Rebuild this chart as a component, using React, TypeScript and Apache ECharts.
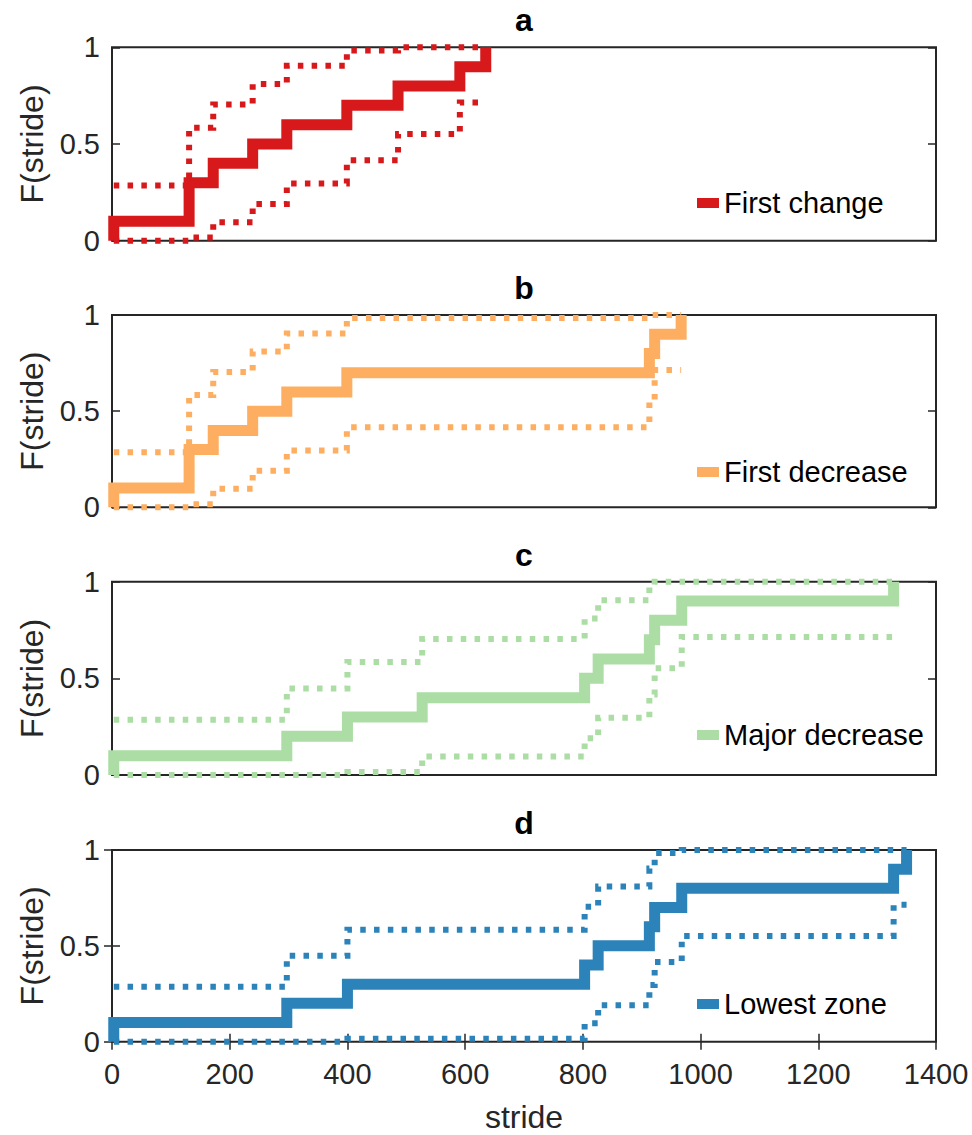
import React, { useEffect, useRef } from "react";
import * as echarts from "echarts";

const FONT = '"Liberation Sans", Arial, Helvetica, sans-serif';
const AXIS_COLOR = "#262626";

// ---- labels ----
const panelTitles = ["a", "b", "c", "d"];
const seriesNames = ["First change", "First decrease", "Major decrease", "Lowest zone"];
const seriesColors = ["#d7191c", "#fdae61", "#abdda4", "#2b83ba"];
const xAxisName = "stride";
const yAxisName = "F(stride)";
const xTickValues = [0, 200, 400, 600, 800, 1000, 1200, 1400];
const yTickValues = [0, 0.5, 1];

// ---- panel a: First change ----
const strideA = [3, 131, 172, 239, 297, 399, 486, 591, 635];
const cdfA = [0.1, 0.3, 0.4, 0.5, 0.6, 0.7, 0.8, 0.9, 1.0];
const lowerA = [0, 0.016, 0.096, 0.19, 0.296, 0.416, 0.552, 0.714];
const upperA = [0.286, 0.584, 0.704, 0.81, 0.904, 0.984, 1, 1];

// ---- panel b: First decrease ----
const strideB = [3, 131, 172, 239, 297, 399, 913, 922, 967];
const cdfB = [0.1, 0.3, 0.4, 0.5, 0.6, 0.7, 0.8, 0.9, 1.0];
const lowerB = [0, 0.016, 0.096, 0.19, 0.296, 0.416, 0.552, 0.714];
const upperB = [0.286, 0.584, 0.704, 0.81, 0.904, 0.984, 1, 1];

// ---- panel c: Major decrease ----
const strideC = [3, 297, 400, 527, 803, 826, 913, 922, 968, 1328];
const cdfC = [0.1, 0.2, 0.3, 0.4, 0.5, 0.6, 0.7, 0.8, 0.9, 1.0];
const lowerC = [0, 0, 0.016, 0.096, 0.19, 0.296, 0.416, 0.552, 0.714];
const upperC = [0.286, 0.448, 0.584, 0.704, 0.81, 0.904, 0.984, 1, 1];

// ---- panel d: Lowest zone ----
const strideD = [3, 297, 400, 803, 826, 913, 922, 968, 1328, 1350];
const cdfD = [0.1, 0.2, 0.3, 0.4, 0.5, 0.6, 0.7, 0.8, 0.9, 1.0];
const lowerD = [0, 0, 0.016, 0.096, 0.19, 0.296, 0.416, 0.552, 0.714];
const upperD = [0.286, 0.448, 0.584, 0.704, 0.81, 0.904, 0.984, 1, 1];

const panels = [
  { x: strideA, f: cdfA, lo: lowerA, up: upperA },
  { x: strideB, f: cdfB, lo: lowerB, up: upperB },
  { x: strideC, f: cdfC, lo: lowerC, up: upperC },
  { x: strideD, f: cdfD, lo: lowerD, up: upperD },
];

// layout (pixels)
const GRID_LEFT = 112;
const GRID_WIDTH = 824;
const gridTops = [47.3, 315, 581.7, 850];
const gridHeights = [193.4, 192.3, 193.3, 191.7];
const legendCenters = [203, 472, 735, 1004];

function mainData(x: number[], f: number[]) {
  const d: number[][] = [[x[0], 0]];
  x.forEach((v, i) => d.push([v, f[i]]));
  return d;
}
function boundData(x: number[], b: number[]) {
  const d: number[][] = b.map((v, i) => [x[i], v]);
  d.push([x[x.length - 1], b[b.length - 1]]);
  return d;
}

function buildOption() {
  const grid: any[] = [];
  const xAxis: any[] = [];
  const yAxis: any[] = [];
  const series: any[] = [];
  const legend: any[] = [];
  const graphic: any[] = [];

  const tickStyle = { color: AXIS_COLOR, width: 1.5 };

  panels.forEach((p, i) => {
    grid.push({
      left: GRID_LEFT,
      top: gridTops[i],
      width: GRID_WIDTH,
      height: gridHeights[i],
      show: true,
      borderColor: AXIS_COLOR,
      borderWidth: 2,
      backgroundColor: "transparent",
      containLabel: false,
      outerBoundsMode: "none",
    });
    const isBottom = i === 3;
    xAxis.push({
      gridIndex: i,
      type: "value",
      min: xTickValues[0],
      max: xTickValues[xTickValues.length - 1],
      interval: 200,
      axisLine: { show: false },
      splitLine: { show: false },
      axisTick: { show: isBottom, inside: true, length: 8, lineStyle: tickStyle },
      axisLabel: {
        show: isBottom,
        margin: 18,
        fontSize: 29,
        fontFamily: FONT,
        color: AXIS_COLOR,
        showMinLabel: true,
        showMaxLabel: true,
        formatter: (v: number) => String(v),
      },
      name: isBottom ? xAxisName : "",
      nameLocation: "middle",
      nameGap: 59,
      nameTextStyle: { fontSize: 32, fontFamily: FONT, color: AXIS_COLOR },
    });
    yAxis.push({
      gridIndex: i,
      type: "value",
      min: yTickValues[0],
      max: yTickValues[yTickValues.length - 1],
      interval: 0.5,
      axisLine: { show: false },
      splitLine: { show: false },
      axisTick: { show: true, inside: true, length: 8, lineStyle: tickStyle },
      axisLabel: {
        margin: 12,
        fontSize: 29,
        fontFamily: FONT,
        color: AXIS_COLOR,
        showMinLabel: true,
        showMaxLabel: true,
        formatter: (v: number) => String(v),
      },
      name: yAxisName,
      nameLocation: "middle",
      nameRotate: 90,
      nameGap: 64,
      nameTextStyle: { fontSize: 32, fontFamily: FONT, color: AXIS_COLOR },
    });

    const color = seriesColors[i];
    series.push({
      name: seriesNames[i],
      type: "line",
      xAxisIndex: i,
      yAxisIndex: i,
      step: "end",
      symbol: "none",
      showSymbol: false,
      clip: false,
      silent: true,
      lineStyle: { color, width: 11, cap: "butt", join: "miter" },
      itemStyle: { color },
      data: mainData(p.x, p.f),
      z: 2,
    });
    [p.lo, p.up].forEach((b, k) => {
      series.push({
        name: seriesNames[i] + (k === 0 ? " lower" : " upper"),
        type: "line",
        xAxisIndex: i,
        yAxisIndex: i,
        step: "end",
        symbol: "none",
        showSymbol: false,
        clip: false,
        silent: true,
        lineStyle: { color, width: 6, type: [5.5, 8.3], cap: "butt", join: "miter" },
        itemStyle: { color },
        data: boundData(p.x, b),
        z: 3,
      });
    });

    legend.push({
      data: [seriesNames[i]],
      left: 697,
      top: legendCenters[i] - 14.5,
      padding: 0,
      icon: "rect",
      itemWidth: 22,
      itemHeight: 10,
      selectedMode: false,
      itemStyle: { borderWidth: 0 },
      textStyle: { fontSize: 29, fontFamily: FONT, color: "#000", padding: [0, 0, 0, 0] },
    });

    graphic.push({
      type: "text",
      x: GRID_LEFT + GRID_WIDTH / 2,
      y: gridTops[i] - 27,
      style: {
        text: panelTitles[i],
        fontSize: 32,
        fontWeight: "bold",
        fontFamily: FONT,
        fill: "#000",
        textAlign: "center",
        textVerticalAlign: "middle",
      },
    });
  });

  // top ticks of bottom panel
  xAxis.push({
    gridIndex: 3,
    type: "value",
    position: "top",
    min: 0,
    max: 1400,
    interval: 200,
    axisLine: { show: false },
    splitLine: { show: false },
    axisTick: { show: true, inside: true, length: 8, lineStyle: tickStyle },
    axisLabel: { show: false },
  });
  // right-side ticks of all panels
  panels.forEach((_, i) => {
    yAxis.push({
      gridIndex: i,
      type: "value",
      position: "right",
      min: 0,
      max: 1,
      interval: 0.5,
      axisLine: { show: false },
      splitLine: { show: false },
      axisTick: { show: true, inside: true, length: 8, lineStyle: tickStyle },
      axisLabel: { show: false },
    });
  });

  return {
    animation: false,
    backgroundColor: "#ffffff",
    textStyle: { fontFamily: FONT },
    grid,
    xAxis,
    yAxis,
    series,
    legend,
    graphic,
  };
}

export default function App() {
  const ref = useRef<HTMLDivElement>(null);
  useEffect(() => {
    document.body.style.margin = "0";
    if (!ref.current) return;
    const chart = echarts.init(ref.current, undefined, { renderer: "svg" });
    chart.setOption(buildOption() as any);
    return () => chart.dispose();
  }, []);
  return <div ref={ref} style={{ width: 972, height: 1135 }} />;
}
